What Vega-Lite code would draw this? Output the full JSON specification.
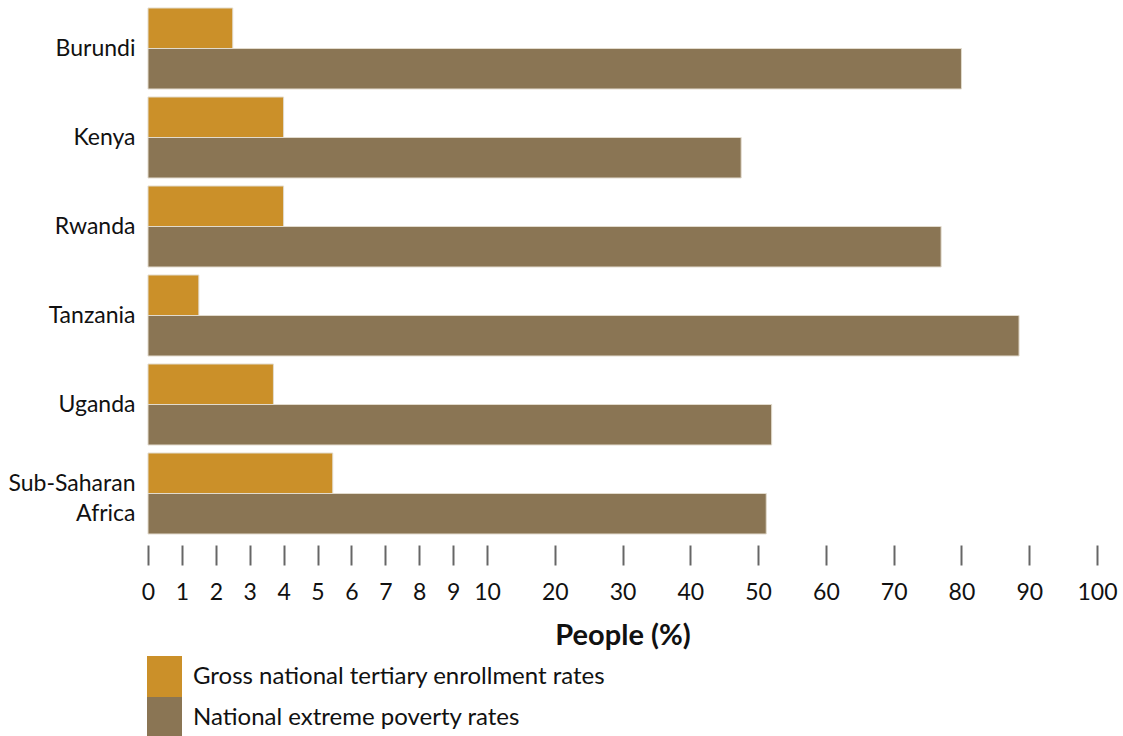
{
  "$schema": "https://vega.github.io/schema/vega-lite/v6.json",
  "width": 949,
  "height": 534,
  "autosize": {"type": "none"},
  "padding": {"left": 148, "top": 4, "right": 26, "bottom": 198},
  "background": "white",
  "config": {"view": {"stroke": null}, "font": "Lato"},
  "data": {
    "values": [
      {"region": "Burundi", "series": "Gross national tertiary enrollment rates", "value": 2.5},
      {"region": "Burundi", "series": "National extreme poverty rates", "value": 80},
      {"region": "Kenya", "series": "Gross national tertiary enrollment rates", "value": 4.0},
      {"region": "Kenya", "series": "National extreme poverty rates", "value": 47.5},
      {"region": "Rwanda", "series": "Gross national tertiary enrollment rates", "value": 4.0},
      {"region": "Rwanda", "series": "National extreme poverty rates", "value": 77},
      {"region": "Tanzania", "series": "Gross national tertiary enrollment rates", "value": 1.5},
      {"region": "Tanzania", "series": "National extreme poverty rates", "value": 88.5},
      {"region": "Uganda", "series": "Gross national tertiary enrollment rates", "value": 3.7},
      {"region": "Uganda", "series": "National extreme poverty rates", "value": 52},
      {"region": "Sub-Saharan Africa", "series": "Gross national tertiary enrollment rates", "value": 5.45},
      {"region": "Sub-Saharan Africa", "series": "National extreme poverty rates", "value": 51.2}
    ]
  },
  "mark": {"type": "bar", "stroke": "#e2dbcd", "strokeWidth": 1},
  "encoding": {
    "y": {
      "field": "region",
      "type": "nominal",
      "sort": null,
      "scale": {"paddingInner": 0.09, "paddingOuter": 0.045},
      "axis": {
        "title": null,
        "domain": false,
        "ticks": false,
        "labelFontSize": 23,
        "labelColor": "#111",
        "labelPadding": 13,
        "labelLineHeight": 30,
        "labelExpr": "datum.value == 'Sub-Saharan Africa' ? ['Sub-Saharan', 'Africa'] : datum.value",
        "labelOffset": {"condition": {"test": "datum.value == 'Sub-Saharan Africa'", "value": -10}, "value": 0}
      }
    },
    "yOffset": {
      "field": "series",
      "type": "nominal",
      "sort": null,
      "scale": {"paddingInner": 0, "paddingOuter": 0}
    },
    "x": {
      "field": "value",
      "type": "quantitative",
      "stack": null,
      "scale": {"domain": [0, 10, 100], "range": [0, 339, 949], "nice": false, "zero": true},
      "axis": {
        "title": "People (%)",
        "titleFontSize": 29,
        "titleFontWeight": "bold",
        "titleColor": "#111",
        "titlePadding": 17,
        "values": [0, 1, 2, 3, 4, 5, 6, 7, 8, 9, 10, 20, 30, 40, 50, 60, 70, 80, 90, 100],
        "domain": false,
        "grid": false,
        "offset": 7,
        "tickSize": 20,
        "tickWidth": 2,
        "tickColor": "#666",
        "labelFontSize": 23,
        "labelColor": "#111",
        "labelPadding": 16,
        "labelFlush": false,
        "labelOverlap": false
      }
    },
    "color": {
      "field": "series",
      "type": "nominal",
      "sort": null,
      "scale": {"range": ["#cb9029", "#8a7554"]},
      "legend": {
        "title": null,
        "orient": "none",
        "legendX": -1,
        "legendY": 655,
        "direction": "vertical",
        "symbolType": "M-1,-1.171H1V1.171H-1Z",
        "symbolSize": 1225,
        "symbolStrokeWidth": 0,
        "symbolOpacity": 1,
        "rowPadding": 0,
        "labelOffset": 11,
        "labelFontSize": 24,
        "labelColor": "#111",
        "padding": 0,
        "labelLimit": 700
      }
    }
  }
}
